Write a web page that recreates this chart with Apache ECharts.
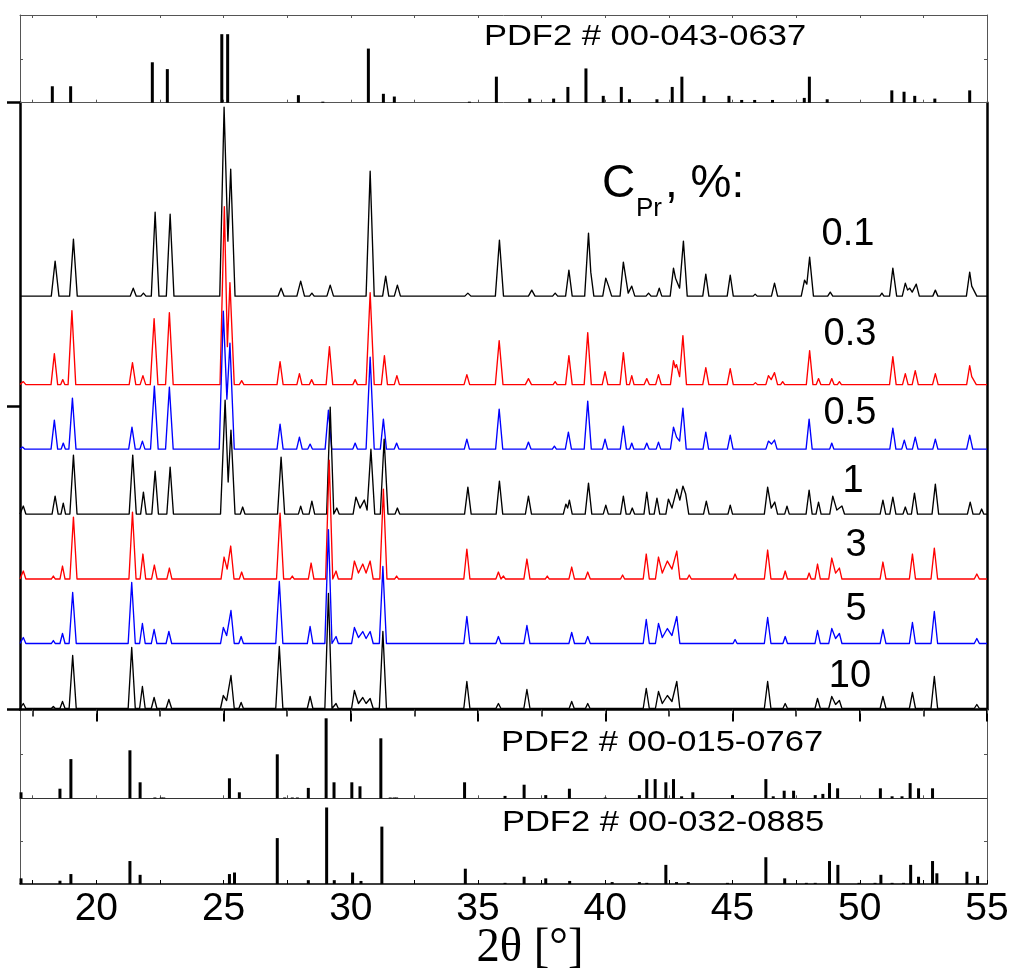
<!DOCTYPE html>
<html><head><meta charset="utf-8">
<script src="https://cdn.jsdelivr.net/npm/echarts@6/dist/echarts.min.js"></script>
<style>html,body{margin:0;padding:0;background:#fff}#c{width:1013px;height:975px}</style>
</head><body><div id="c"></div>
<script>
// ---------- DATA ----------
const sampleLabels = ['0.1', '0.3', '0.5', '1', '3', '5', '10'];
const pdfLabels = ['PDF2 # 00-043-0637', 'PDF2 # 00-015-0767', 'PDF2 # 00-032-0885'];
const legendTitle = ['C', 'Pr', ', %:'];
const axisTitle = '2θ [°]';
const majorTicks = [20, 25, 30, 35, 40, 45, 50, 55];
const minorTicks = [17.5, 22.5, 27.5, 32.5, 37.5, 42.5, 47.5, 52.5];
const allTicks = [17.5, 20, 22.5, 25, 27.5, 30, 32.5, 35, 37.5, 40, 42.5, 45, 47.5, 50, 52.5, 55];
// vertical offsets of the stacked patterns (a.u.)
const offsets = [413.5, 325, 260.5, 195.5, 130.5, 66, 1];

// XRD patterns: [2theta, intensity a.u.]
const p01 = [[17,0],[18.23,0],[18.38,35],[18.53,0],[18.95,0],[19.10,57],[19.25,0],[21.33,0],[21.45,8],[21.57,0],[21.75,0],[21.85,3],[21.95,0],
[22.16,0],[22.31,84],[22.46,0],[22.75,0],[22.90,82],[23.05,0],[24.85,0],[25.02,189],[25.17,55],[25.28,127],[25.45,0],
[27.14,0],[27.26,8],[27.38,0],[27.88,0],[28.03,15],[28.18,0],[28.38,0],[28.47,3],[28.56,0],[29.06,0],[29.19,11],[29.32,0],
[30.60,0],[30.76,125],[30.92,0],[31.25,0],[31.37,20],[31.49,0],[31.71,0],[31.83,11],[31.95,0],[34.48,0],[34.60,3],[34.72,0],
[35.68,0],[35.84,56],[36.00,0],[36.98,0],[37.11,6],[37.24,0],[37.93,0],[38.03,3],[38.13,0],[38.44,0],[38.57,26],[38.70,0],
[39.19,0],[39.34,63],[39.43,24],[39.55,0],[39.90,0],[40.02,18],[40.13,10],[40.25,0],[40.58,0],[40.71,34],[40.90,3],[41.04,10],[41.16,0],
[41.60,0],[41.70,3],[41.80,0],[42.02,0],[42.12,8],[42.22,0],[42.55,0],[42.68,28],[42.76,18],[42.82,20],[42.92,8],[43.07,55],[43.22,0],
[43.83,0],[43.95,22],[44.07,0],[44.79,0],[44.91,21],[45.03,0],[45.81,0],[45.89,2],[45.97,0],[46.53,0],[46.65,13],[46.77,0],
[47.70,0],[47.83,16],[47.92,12],[48.03,39],[48.18,0],[48.74,0],[48.84,4],[48.94,0],[50.79,0],[50.87,3],[50.95,0],
[51.17,0],[51.30,28],[51.45,0],[51.67,0],[51.79,13],[51.88,6],[51.96,8],[52.06,4],[52.22,12],[52.34,0],
[52.87,0],[52.97,6],[53.07,0],[54.19,0],[54.32,24],[54.40,10],[54.47,12],[54.60,0],[55,0]];

const p03 = [[17,0],[17.03,0],[17.13,3],[17.23,0],[18.22,0],[18.35,31],[18.48,0],[18.60,0],[18.68,5],[18.76,0],[18.89,0],[19.04,74],[19.19,0],
[21.29,0],[21.42,22],[21.55,0],[21.72,0],[21.83,9],[21.94,0],[22.12,0],[22.27,66],[22.42,0],[22.72,0],[22.87,72],[23.02,0],
[24.86,0],[25.03,178],[25.15,38],[25.25,102],[25.42,0],[25.62,0],[25.71,4],[25.80,0],[27.10,0],[27.22,23],[27.34,0],
[27.88,0],[27.98,11],[28.08,0],[28.37,0],[28.46,5],[28.55,0],[29.03,0],[29.16,38],[29.29,0],[30.08,0],[30.17,5],[30.26,0],
[30.60,0],[30.76,92],[30.92,0],[31.20,0],[31.32,29],[31.44,0],[31.71,0],[31.81,9],[31.91,0],[34.45,0],[34.56,10],[34.67,0],
[35.68,0],[35.83,44],[35.98,0],[36.86,0],[36.98,6],[37.10,0],[37.95,0],[38.03,3],[38.11,0],[38.44,0],[38.57,29],[38.70,0],
[39.17,0],[39.31,52],[39.45,0],[39.88,0],[39.99,13],[40.10,0],[40.58,0],[40.71,32],[40.84,0],[40.95,0],[41.04,9],[41.13,0],
[41.53,0],[41.63,6],[41.73,0],[41.98,0],[42.09,10],[42.20,0],[42.56,0],[42.68,24],[42.75,17],[42.80,20],[42.92,8],[43.05,49],[43.19,0],
[43.83,0],[43.95,17],[44.07,0],[44.79,0],[44.91,16],[45.03,0],[45.82,0],[45.90,2],[45.98,0],[46.31,0],[46.41,9],[46.52,5],[46.65,12],[46.77,0],
[46.89,0],[46.97,3],[47.05,0],[47.90,0],[48.03,34],[48.16,0],[48.29,0],[48.38,6],[48.47,0],[48.81,0],[48.90,6],[48.99,0],
[49.12,0],[49.20,3],[49.28,0],[51.17,0],[51.30,28],[51.43,0],[51.68,0],[51.79,11],[51.90,0],[52.06,0],[52.18,14],[52.30,0],
[52.86,0],[52.97,11],[53.08,0],[54.20,0],[54.32,19],[54.40,8],[54.47,10],[54.58,0],[55,0]];

const p05 = [[17,0],[17.02,0],[17.10,2],[17.18,0],[18.22,0],[18.35,29],[18.48,0],[18.62,0],[18.70,6],[18.78,0],[18.92,0],[19.06,51],[19.20,0],
[21.27,0],[21.40,22],[21.53,0],[21.71,0],[21.81,8],[21.91,0],[22.13,0],[22.28,63],[22.43,0],[22.72,0],[22.87,62],[23.02,0],
[24.83,0],[24.99,138],[25.13,50],[25.25,106],[25.42,0],[27.10,0],[27.22,25],[27.34,0],[27.87,0],[27.98,12],[28.09,0],
[28.31,0],[28.40,5],[28.49,0],[28.99,0],[29.12,39],[29.25,0],[30.08,0],[30.17,6],[30.26,0],[30.60,0],[30.76,92],[30.92,0],
[31.16,0],[31.28,30],[31.40,0],[31.71,0],[31.80,6],[31.89,0],[34.46,0],[34.56,10],[34.66,0],[35.69,0],[35.83,40],[35.97,0],
[36.88,0],[36.98,7],[37.08,0],[37.92,0],[38.00,3],[38.08,0],[38.43,0],[38.55,17],[38.67,0],[39.17,0],[39.31,48],[39.45,0],
[39.89,0],[39.99,10],[40.09,0],[40.59,0],[40.71,23],[40.83,0],[40.96,0],[41.04,6],[41.12,0],[41.54,0],[41.63,6],[41.72,0],
[42.00,0],[42.09,7],[42.18,0],[42.56,0],[42.68,22],[42.80,12],[42.92,8],[43.05,41],[43.18,0],[43.84,0],[43.95,17],[44.06,0],
[44.80,0],[44.91,14],[45.02,0],[46.31,0],[46.41,8],[46.53,5],[46.65,9],[46.75,0],[47.89,0],[48.01,30],[48.13,0],
[48.82,0],[48.90,6],[48.98,0],[51.18,0],[51.30,21],[51.42,0],[51.65,0],[51.75,9],[51.85,0],[52.07,0],[52.18,12],[52.29,0],
[52.87,0],[52.97,10],[53.07,0],[54.20,0],[54.32,14],[54.44,0],[55,0]];

const p1 = [[17,0],[17.03,0],[17.13,8],[17.23,0],[18.26,0],[18.38,18],[18.50,0],[18.61,0],[18.70,11],[18.79,0],[18.96,0],[19.10,59],[19.24,0],
[21.29,0],[21.43,59],[21.57,0],[21.74,0],[21.85,22],[21.96,0],[22.18,0],[22.31,43],[22.44,0],[22.77,0],[22.90,47],[23.03,0],
[24.88,0],[25.06,114],[25.18,32],[25.29,84],[25.45,0],[25.66,0],[25.75,7],[25.84,0],[27.12,0],[27.26,57],[27.40,0],
[27.94,0],[28.03,8],[28.12,0],[28.36,0],[28.47,13],[28.58,0],[29.05,0],[29.19,107],[29.33,0],[29.36,0],[29.45,6],[29.54,0],
[30.09,0],[30.20,17],[30.36,6],[30.53,14],[30.64,4],[30.79,65],[30.94,0],[31.16,0],[31.31,75],[31.46,0],[31.74,0],[31.83,6],[31.92,0],
[34.47,0],[34.60,27],[34.73,0],[35.71,0],[35.84,33],[35.97,0],[36.86,0],[36.98,18],[37.10,0],[38.35,0],[38.45,10],[38.52,6],[38.59,14],[38.70,0],
[39.21,0],[39.34,31],[39.47,0],[39.92,0],[40.02,9],[40.12,0],[40.60,0],[40.71,18],[40.82,0],[40.97,0],[41.06,6],[41.15,0],
[41.52,0],[41.63,22],[41.74,0],[41.92,0],[42.03,16],[42.14,0],[42.38,0],[42.48,15],[42.62,6],[42.81,25],[42.93,14],[43.05,28],[43.16,20],[43.28,0],
[43.86,0],[43.97,13],[44.08,0],[44.82,0],[44.91,9],[45.00,0],[46.25,0],[46.38,27],[46.52,6],[46.66,12],[46.77,0],[47.05,0],[47.14,8],[47.23,0],
[47.89,0],[48.01,24],[48.13,0],[48.28,0],[48.38,12],[48.48,0],[48.82,0],[48.94,18],[49.10,4],[49.30,8],[49.40,0],
[50.80,0],[50.91,14],[51.02,0],[51.18,0],[51.30,17],[51.42,0],[51.70,0],[51.79,7],[51.88,0],[52.03,0],[52.15,21],[52.27,0],
[52.84,0],[52.97,30],[53.10,0],[54.23,0],[54.34,12],[54.45,0],[54.71,0],[54.79,5],[54.87,0],[55,0]];

const p3 = [[17,0],[17.03,0],[17.13,8],[17.23,0],[18.23,0],[18.31,3],[18.39,0],[18.57,0],[18.67,13],[18.77,0],[18.96,0],[19.10,62],[19.24,0],
[21.28,0],[21.42,67],[21.56,0],[21.72,0],[21.83,25],[21.94,0],[22.17,0],[22.28,14],[22.39,0],[22.77,0],[22.87,11],[22.97,0],
[24.90,0],[25.02,22],[25.14,10],[25.28,33],[25.41,0],[25.62,0],[25.71,7],[25.80,0],[27.08,0],[27.22,66],[27.36,0],
[27.62,0],[27.70,3],[27.78,0],[28.33,0],[28.44,16],[28.55,0],[29.01,0],[29.15,119],[29.29,0],[29.33,0],[29.42,8],[29.51,0],
[30.03,0],[30.14,18],[30.30,6],[30.47,15],[30.60,6],[30.76,18],[30.88,0],[31.14,0],[31.28,90],[31.42,0],[31.72,0],[31.80,3],[31.88,0],
[34.44,0],[34.56,30],[34.68,0],[35.70,0],[35.80,7],[35.90,0],[35.92,0],[36.00,3],[36.08,0],[36.80,0],[36.92,20],[37.04,0],
[37.64,0],[37.72,3],[37.80,0],[38.57,0],[38.68,12],[38.79,0],[39.21,0],[39.31,7],[39.41,0],[40.60,0],[40.68,4],[40.76,0],
[41.49,0],[41.61,25],[41.73,0],[41.97,0],[42.09,22],[42.24,6],[42.44,18],[42.62,10],[42.81,28],[42.93,0],[43.22,0],[43.30,4],[43.38,0],
[45.02,0],[45.10,5],[45.18,0],[46.25,0],[46.38,29],[46.51,0],[46.98,0],[47.07,8],[47.16,0],[47.93,0],[48.01,6],[48.09,0],
[48.24,0],[48.34,15],[48.45,0],[48.78,0],[48.90,21],[49.05,6],[49.20,11],[49.30,0],[50.80,0],[50.91,17],[51.03,0],
[51.95,0],[52.07,25],[52.19,0],[52.80,0],[52.93,31],[53.06,0],[54.50,0],[54.60,5],[54.70,0],[55,0]];

const p5 = [[17,0],[17.03,0],[17.13,6],[17.23,0],[18.23,0],[18.31,3],[18.39,0],[18.57,0],[18.67,10],[18.77,0],[18.93,0],[19.07,51],[19.21,0],
[21.25,0],[21.39,61],[21.53,0],[21.70,0],[21.81,20],[21.92,0],[22.16,0],[22.27,14],[22.38,0],[22.74,0],[22.85,12],[22.96,0],
[24.88,0],[24.99,16],[25.12,8],[25.29,33],[25.42,0],[25.60,0],[25.69,7],[25.78,0],[27.05,0],[27.19,62],[27.33,0],
[28.29,0],[28.40,17],[28.51,0],[28.98,0],[29.12,114],[29.26,0],[29.33,0],[29.42,7],[29.51,0],
[30.03,0],[30.14,16],[30.30,6],[30.47,12],[30.60,5],[30.76,12],[30.88,0],[31.12,0],[31.26,77],[31.40,0],
[34.44,0],[34.56,27],[34.68,0],[35.70,0],[35.80,7],[35.90,0],[36.80,0],[36.92,18],[37.04,0],[38.57,0],[38.68,11],[38.79,0],
[39.21,0],[39.31,7],[39.41,0],[41.49,0],[41.61,24],[41.73,0],[41.97,0],[42.09,20],[42.24,6],[42.44,15],[42.62,8],[42.81,27],[42.93,0],
[45.02,0],[45.10,4],[45.18,0],[46.25,0],[46.38,26],[46.51,0],[46.98,0],[47.07,7],[47.16,0],[48.24,0],[48.34,13],[48.45,0],
[48.78,0],[48.90,15],[49.05,5],[49.20,10],[49.30,0],[50.80,0],[50.91,14],[51.03,0],[51.95,0],[52.07,21],[52.19,0],
[52.80,0],[52.93,32],[53.06,0],[54.50,0],[54.60,5],[54.70,0],[55,0]];

const p10 = [[17,0],[17.03,0],[17.13,5],[17.23,0],[18.23,0],[18.31,2],[18.39,0],[18.57,0],[18.67,7],[18.77,0],[18.93,0],[19.07,53],[19.21,0],
[21.25,0],[21.39,61],[21.53,0],[21.70,0],[21.81,22],[21.92,0],[22.16,0],[22.27,11],[22.38,0],[22.74,0],[22.85,9],[22.96,0],
[24.88,0],[24.99,13],[25.12,8],[25.29,33],[25.42,0],[25.60,0],[25.69,6],[25.78,0],[27.05,0],[27.19,62],[27.33,0],
[28.29,0],[28.40,12],[28.51,0],[28.98,0],[29.12,115],[29.26,0],[29.33,0],[29.42,5],[29.51,0],
[30.03,0],[30.14,18],[30.30,5],[30.47,11],[30.60,5],[30.76,10],[30.88,0],[31.12,0],[31.26,77],[31.40,0],
[34.44,0],[34.56,27],[34.68,0],[35.70,0],[35.80,5],[35.90,0],[36.80,0],[36.92,19],[37.04,0],[38.58,0],[38.68,7],[38.78,0],
[39.22,0],[39.31,5],[39.40,0],[41.49,0],[41.61,20],[41.73,0],[41.97,0],[42.09,17],[42.24,5],[42.44,13],[42.62,7],[42.81,27],[42.93,0],
[46.25,0],[46.38,27],[46.51,0],[46.98,0],[47.07,5],[47.16,0],[48.24,0],[48.34,10],[48.45,0],
[48.78,0],[48.90,12],[49.05,4],[49.20,8],[49.30,0],[50.80,0],[50.91,12],[51.03,0],[51.95,0],[52.07,16],[52.19,0],
[52.80,0],[52.93,32],[53.06,0],[54.50,0],[54.60,4],[54.70,0],[55,0]];

const patterns = [p01, p03, p05, p1, p3, p5, p10];

// Reference stick patterns: [2theta, relative intensity]
const pdfA = [[18.27,24],[18.99,24],[22.20,59],[22.79,49],[24.93,100],[25.16,100],[27.94,11],[28.90,1.5],[30.69,79],[31.28,13],[31.71,9],[34.66,1.5],
[35.72,38],[37.03,6],[37.97,6],[38.53,23],[39.24,50],[39.92,10],[40.63,23],[40.95,5],[42.03,5],[42.63,23],[43.01,38],[43.88,10],[44.86,10],
[45.36,4],[45.87,4],[46.57,4],[47.82,7],[48.02,38],[48.72,5],[51.26,18],[51.74,16],[52.16,10],[52.95,6],[54.32,18]];
const pdfB = [[17.04,7.5],[18.57,12],[19.00,49],[21.32,60],[21.72,20],[22.30,1],[22.55,1],[22.65,1],[25.23,25],[25.62,7.5],[27.11,55],[27.40,1],[27.70,1],[27.90,1],
[28.33,13],[29.03,100],[29.34,20],[30.04,20],[30.36,15],[31.18,75],[31.55,1],[31.70,1],[31.80,1],[34.47,20],[36.06,3],[36.81,17],[37.66,4],[38.59,12],
[40.00,1],[41.34,4],[41.63,24],[41.96,24],[42.38,20],[42.68,24],[43.00,2.5],[43.44,7.5],[45.00,4],[46.31,24],[46.60,2.5],[47.03,9.5],[47.40,9.5],
[48.25,4],[48.55,5.5],[48.81,19],[49.13,12.5],[50.81,12.5],[51.27,2.5],[51.66,2.5],[51.98,19],[52.31,12.5],[52.86,12.5]];
const pdfC = [[17.04,7.4],[18.57,4.3],[19.00,13],[21.32,30],[21.72,12],[25.23,13],[25.43,15],[27.11,60],[28.33,5],[29.05,100],[29.35,5],[30.07,15],[30.40,4],
[31.22,75],[34.50,20],[36.06,1.5],[36.81,9.5],[37.66,7.4],[38.60,4],[40.27,2.5],[41.34,2.5],[41.63,1.5],[42.38,25],[42.80,2.5],[43.26,2.5],[44.80,1.5],
[46.31,35],[47.05,7.4],[47.90,1.5],[48.25,1.5],[48.81,30],[49.14,25],[49.97,1.5],[50.60,1.5],[50.83,12],[51.27,1.5],[51.72,1.5],[52.00,25],[52.31,9.5],
[52.86,30],[53.03,14],[54.21,16],[54.63,10.5]];

// ---------- CHART ----------
const colors = ['#000000', '#ff0000', '#0000ff', '#000000', '#ff0000', '#0000ff', '#000000'];
const SANS = "Liberation Sans";
const SERIF = "Liberation Serif";
const gray = '#555';

function xAx(grid, pos, o) {
  return Object.assign({
    type: 'value', gridIndex: grid, position: pos, min: 17, max: 55,
    splitLine: { show: false }, axisLabel: { show: false },
    axisLine: { show: true, onZero: false, lineStyle: { color: gray, width: 1 } },
    axisTick: { show: true, inside: true, length: 3, customValues: allTicks, lineStyle: { color: gray, width: 1 } }
  }, o);
}
function yAx(grid, pos, max, tickVals, o) {
  return Object.assign({
    type: 'value', gridIndex: grid, position: pos, min: 0, max: max,
    splitLine: { show: false }, axisLabel: { show: false },
    axisLine: { show: true, onZero: false, lineStyle: { color: gray, width: 1 } },
    axisTick: { show: true, inside: true, length: 3, customValues: tickVals, lineStyle: { color: gray, width: 1 } }
  }, o);
}

const xAxes = [
  xAx(0, 'bottom'),                                   // 0
  xAx(0, 'top'),                                      // 1
  xAx(1, 'bottom', {                                  // 2 main, major ticks
    axisLine: { show: true, onZero: false, lineStyle: { color: '#000', width: 2.5 } },
    axisTick: { show: true, inside: false, length: 12, customValues: majorTicks, lineStyle: { color: '#000', width: 2 } }
  }),
  xAx(1, 'bottom', {                                  // 3 main, minor ticks
    axisLine: { show: false },
    axisTick: { show: true, inside: false, length: 7, customValues: minorTicks, lineStyle: { color: '#000', width: 1.5 } }
  }),
  xAx(1, 'top', { axisLine: { show: false }, axisTick: { show: true, inside: true, length: 4, customValues: allTicks, lineStyle: { color: gray, width: 1 } } }), // 4
  xAx(2, 'bottom', { axisLine: { show: true, onZero: false, lineStyle: { color: '#333', width: 1.2 } } }), // 5
  xAx(3, 'bottom', {                                  // 6 with labels
    axisLine: { show: true, onZero: false, lineStyle: { color: '#000', width: 1.5 } },
    axisTick: { show: true, inside: true, length: 4, customValues: allTicks, lineStyle: { color: '#000', width: 1 } },
    axisLabel: { show: true, customValues: majorTicks, margin: 6, color: '#000', fontFamily: SANS, fontSize: 39 }
  })
];

const yAxes = [
  yAx(0, 'left', 128, [64]),
  yAx(0, 'right', 128, [64]),
  yAx(1, 'left', 607, [0, 303.5, 607], {
    axisLine: { show: true, onZero: false, lineStyle: { color: '#000', width: 2.5 } },
    axisTick: { show: true, inside: false, length: 13, customValues: [0, 303.5, 607], lineStyle: { color: '#000', width: 2.5 } }
  }),
  yAx(1, 'right', 607, [], {
    axisLine: { show: true, onZero: false, lineStyle: { color: '#000', width: 2.5 } },
    axisTick: { show: false }
  }),
  yAx(2, 'left', 111, [55.5]),
  yAx(2, 'right', 111, [55.5]),
  yAx(3, 'left', 112, [56]),
  yAx(3, 'right', 112, [56])
];

const series = [];
function sticks(data, xi, yi) {
  return { type: 'bar', xAxisIndex: xi, yAxisIndex: yi, data: data, barWidth: 3,
    itemStyle: { color: '#000' }, silent: true, animation: false };
}
series.push(sticks(pdfA, 0, 0));
series.push(sticks(pdfB, 5, 4));
series.push(sticks(pdfC, 6, 6));
patterns.forEach((p, i) => {
  series.push({
    type: 'line', xAxisIndex: 2, yAxisIndex: 2, name: sampleLabels[i],
    data: p.map(d => [d[0], d[1] + offsets[i]]),
    showSymbol: false, symbol: 'none', silent: true, animation: false,
    lineStyle: { color: colors[i], width: 1.35, join: 'round' }, clip: true
  });
});

function txt(text, x, y, size, opts) {
  const o = opts || {};
  return {
    type: 'text', x: x, y: y, scaleX: o.scaleX || 1, silent: true, z: 100,
    style: {
      text: text, fill: '#000', fontSize: size, fontFamily: o.family || SANS,
      align: o.align || 'center', textAlign: o.align || 'center',
      verticalAlign: 'middle', textVerticalAlign: 'middle'
    }
  };
}
const sampleLabelPos = [[848, 234.5], [850, 334.5], [850, 413.5], [853, 481.5], [856, 545.5], [856, 609.5], [850, 676.5]];
const graphics = [];
sampleLabels.forEach((s, i) => graphics.push(txt(s, sampleLabelPos[i][0], sampleLabelPos[i][1], 38)));
graphics.push(txt(pdfLabels[0], 645, 37, 30, { scaleX: 1.15 }));
graphics.push(txt(pdfLabels[1], 662, 742.5, 30, { scaleX: 1.15 }));
graphics.push(txt(pdfLabels[2], 663, 822.5, 30, { scaleX: 1.15 }));
graphics.push(txt(legendTitle[0], 618.5, 184.5, 46));
graphics.push(txt(legendTitle[1], 636, 209, 26, { align: 'left' }));
graphics.push(txt(legendTitle[2], 665, 184.5, 46, { align: 'left' }));
graphics.push(txt(axisTitle, 530, 948, 48, { family: SERIF, scaleX: 0.97 }));

const chart = echarts.init(document.getElementById('c'), null, { renderer: 'canvas' });
chart.setOption({
  backgroundColor: '#fff',
  animation: false,
  grid: [
    { left: 20, right: 26, top: 15, height: 87.7 },
    { left: 20, right: 26, top: 102.7, height: 606.8 },
    { left: 20, right: 26, top: 709.5, height: 88.8 },
    { left: 20, right: 26, top: 798.3, height: 85.7 }
  ],
  xAxis: xAxes,
  yAxis: yAxes,
  series: series,
  graphic: graphics
});
</script></body></html>
